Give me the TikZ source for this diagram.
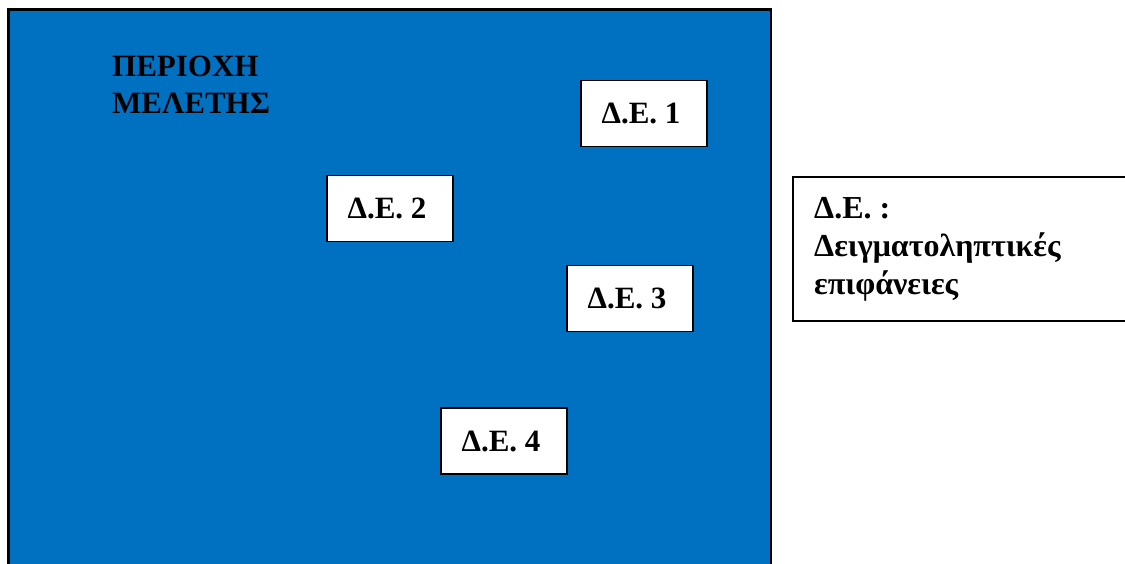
\documentclass[tikz,border=0pt]{standalone}
\usepackage{fontspec}
\setmainfont{Liberation Serif}
\definecolor{areablue}{HTML}{0070C0}
\tikzset{
  areabox/.style={draw=black, line width=2.5pt, fill=areablue, anchor=north west, inner sep=0pt},
  sitebox/.style={draw=black, line width=1.6pt, fill=white, minimum width=126pt, minimum height=66pt,
                  inner sep=0pt, font=\fontsize{31}{37}\selectfont\bfseries},
  legendbox/.style={draw=black, line width=1.6pt, fill=white, anchor=north west, inner sep=0pt,
                    minimum width=400pt, minimum height=144pt},
  label/.style={anchor=north west, inner sep=0pt, align=left,
                font=\fontsize{31}{37}\selectfont\bfseries},
  legendlabel/.style={label, font=\fontsize{32}{38}\selectfont\bfseries}
}
\begin{document}
\begin{tikzpicture}[x=1pt,y=-1pt]
  \useasboundingbox (0,0) rectangle (1125,563);
  % study area
  \node[areabox, minimum width=762.5pt, minimum height=640pt] (area) at (7,8) {};
  \node[label] (title) at (112,56) {ΠΕΡΙΟΧΗ\\ΜΕΛΕΤΗΣ};
  % sampling surfaces
  \node[sitebox] (d1) at (644,113.5) {\hspace*{-6pt}Δ.Ε. 1};
  \node[sitebox] (d2) at (390,208.5) {\hspace*{-6pt}Δ.Ε. 2};
  \node[sitebox] (d3) at (630,298.5) {\hspace*{-6pt}Δ.Ε. 3};
  \node[sitebox] (d4) at (504,441) {\hspace*{-6pt}Δ.Ε. 4};
  % legend
  \node[legendbox] (legend) at (792,176) {};
  \node[legendlabel] (legendtext) at (814,197) {Δ.Ε. :\\Δειγματοληπτικές\\επιφάνειες};
\end{tikzpicture}
\end{document}
